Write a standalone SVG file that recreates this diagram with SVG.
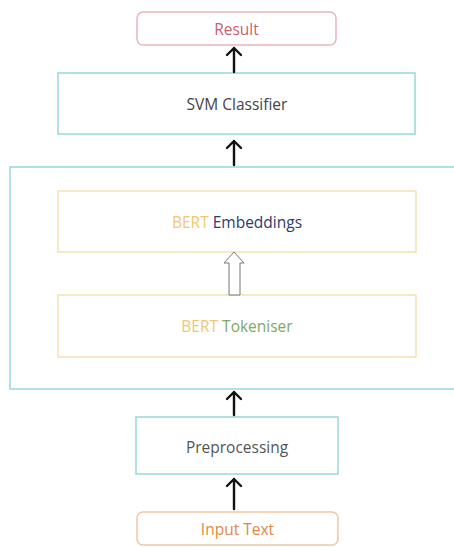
<svg xmlns="http://www.w3.org/2000/svg" width="454" height="547" viewBox="0 0 454 547">
<style>
text{font-family:"Open Sans","Noto Sans","Liberation Sans",sans-serif;font-size:15.5px;text-anchor:middle;dominant-baseline:central}
.teal{fill:#fff;stroke:#9ad6da;stroke-width:1.5}
.yel{fill:#fff;stroke:#f3e2b0;stroke-width:1.5}
.arr{fill:none;stroke:#111;stroke-width:2.4;stroke-linecap:round;stroke-linejoin:round}
</style>
<rect width="454" height="547" fill="#fff"/>
<g id="result"><rect x="137" y="12" width="199" height="33" rx="6" fill="#fff" stroke="#e8b5bc" stroke-width="1.5"/><text x="236.5" y="28.5" fill="#c8606f">Result</text></g>
<g id="svm"><rect class="teal" x="58" y="73" width="357" height="61"/><text x="237" y="103.5" fill="#444">SVM Classifier</text></g>
<g id="bert"><rect class="teal" x="10" y="167" width="450" height="222"/>
<g id="embeddings"><rect class="yel" x="58" y="191" width="358" height="61"/><text x="237" y="222"><tspan fill="#f0c870">BERT</tspan> <tspan fill="#2e3a6e">Embeddings</tspan></text></g>
<g id="tokeniser"><rect class="yel" x="58" y="295" width="358" height="62"/><text x="237" y="326"><tspan fill="#f0c870">BERT</tspan> <tspan fill="#7fa860">Tokeniser</tspan></text></g>
</g>
<g id="preprocessing"><rect class="teal" x="136" y="417" width="202" height="57"/><text x="237" y="446.5" fill="#555">Preprocessing</text></g>
<g id="input"><rect x="137" y="512" width="201" height="33" rx="6" fill="#fff" stroke="#f2c6a4" stroke-width="1.5"/><text x="237.5" y="529" fill="#e08848">Input Text</text></g>
<g id="connectors">
<path class="arr" d="M234 72V48M227 55L234 48L241 55"/>
<path class="arr" d="M234 165V141M227 148L234 141L241 148"/>
<path d="M229 295V263H224L234 252L244 263H240V295Z" fill="#fff" stroke="#777" stroke-width="1"/>
<path class="arr" d="M234 415V392M227 399L234 392L241 399"/>
<path class="arr" d="M234 509V479M227 486L234 479L241 486"/>
</g>
</svg>
